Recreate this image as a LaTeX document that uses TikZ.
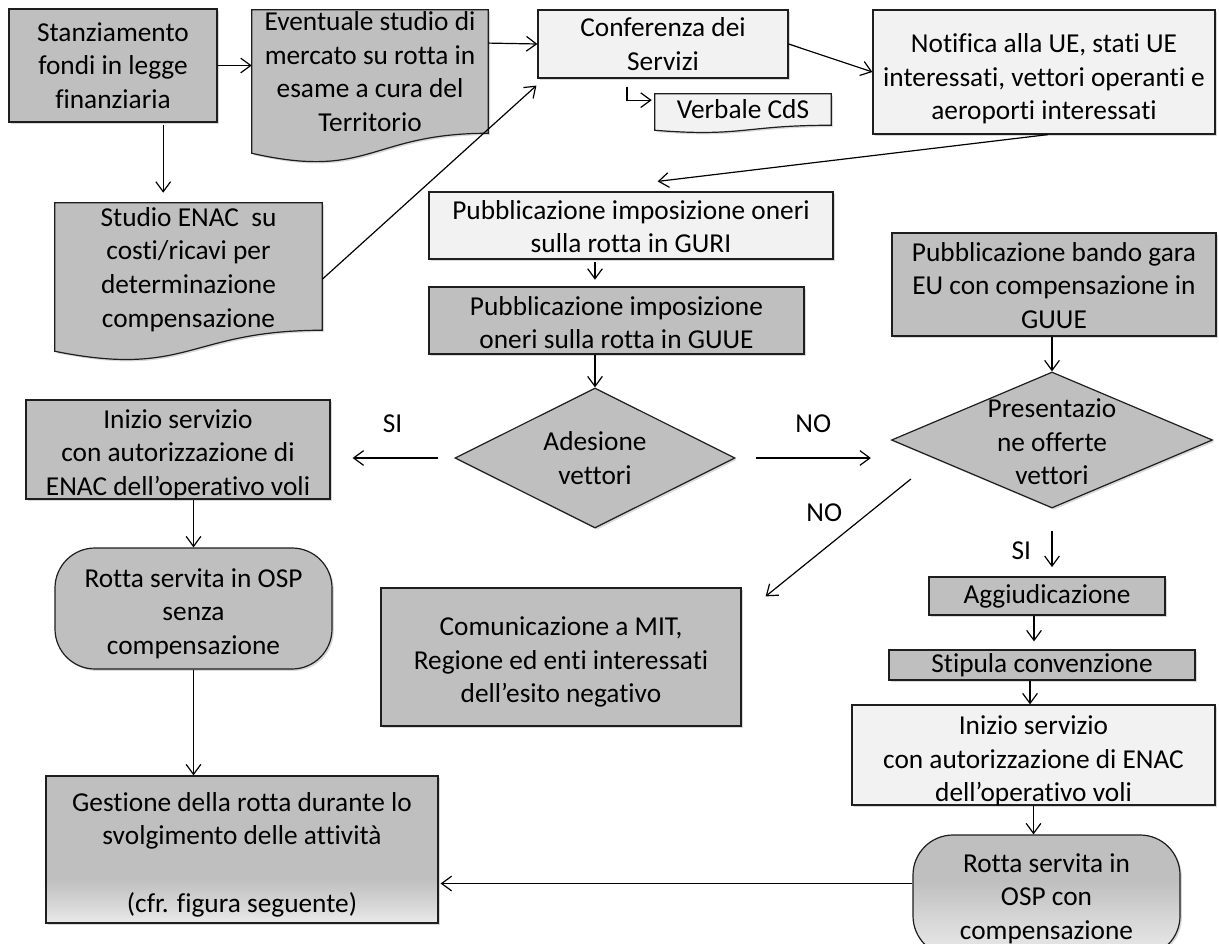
\documentclass[tikz,border=0pt]{standalone}
\usepackage{fontspec}
\setmainfont{Carlito}[Ligatures=NoCommon]
\usetikzlibrary{arrows.meta,shapes.geometric,shadows,calc,backgrounds}
\definecolor{boxgray}{RGB}{191,191,191}
\definecolor{boxlight}{RGB}{242,242,242}
\definecolor{fadelt}{RGB}{234,234,234}
\definecolor{fademid}{RGB}{215,215,215}
\definecolor{edge}{RGB}{30,30,30}
\pgfdeclareverticalshading{fadebot}{100bp}{color(0bp)=(fadelt); color(25bp)=(fadelt); color(31bp)=(fademid); color(40bp)=(boxgray); color(100bp)=(boxgray)}
\pgfdeclareverticalshading{fadebotB}{100bp}{color(0bp)=(fadelt); color(25bp)=(fadelt); color(40bp)=(fademid); color(56bp)=(boxgray); color(100bp)=(boxgray)}
% box from (x2,y2) to (x4,y4) in pixels, named #7; its text node #7t lowered by #1 px
\newcommand\bx[7][0]{\node[#2, minimum width={(#5-#3)*0.75pt}, minimum height={(#6-#4)*0.75pt}] (#7) at ({(#3+#5)/2},{(#4+#6)/2}) {};
  \node[txt] (#7t) at ($(#7)+(0,#1)$)}
\begin{document}
\begin{tikzpicture}[x=0.75pt, y=-0.75pt,
  font=\fontsize{20.5}{25.2}\selectfont,
  boxbase/.style={draw=edge, line width=0.9pt, inner sep=0pt,
    drop shadow={shadow xshift=1.4pt, shadow yshift=-1.4pt, opacity=0.3}},
  gbox/.style={boxbase, rectangle, fill=boxgray},
  lbox/.style={boxbase, rectangle, fill=boxlight},
  dia/.style={boxbase, shape=diamond, fill=boxgray},
  docshape/.style={draw=edge, line width=0.9pt,
    drop shadow={shadow xshift=1.4pt, shadow yshift=-1.4pt, opacity=0.3}},
  txt/.style={rectangle, inner sep=0pt, align=center},
  lab/.style={inner sep=0pt},
  arr/.style={draw=black, line width=0.9pt, -{Straight Barb[length=7.5pt,width=11pt]}}
]
\useasboundingbox (0,0) rectangle (1219,944);

% top row
\bx{gbox}{9}{9}{217}{122}{n1} {Stanziamento\\fondi in legge\\finanziaria};
\bx{txt}{252}{10}{488}{133}{n2} {Eventuale studio di\\mercato su rotta in\\esame a cura del\\Territorio};
\bx{lbox}{538}{10}{788}{78}{n3} {Conferenza dei\\Servizi};
\bx{txt}{655}{94}{831}{125}{n4} {Verbale CdS};
\bx[7]{lbox}{873}{10}{1215}{134}{n5} {Notifica alla UE, stati UE\\interessati, vettori operanti e\\aeroporti interessati};
\bx[3]{txt}{55}{203}{322}{330}{n6} {Studio ENAC\ \ su\\costi/ricavi per\\determinazione\\compensazione};

\begin{scope}[on background layer]
\path[docshape, fill=boxgray] (n2.north west) -- (n2.north east) -- (n2.south east)
  .. controls (n2.south) and ($(n2.south)+(0,47)$) .. ($(n2.south west)+(0,20)$) -- cycle;
\path[docshape, fill=boxlight] (n4.north west) -- (n4.north east) -- (n4.south east)
  .. controls (n4.south) and ($(n4.south)+(0,12)$) .. ($(n4.south west)+(0,5)$) -- cycle;
\path[docshape, fill=boxgray] (n6.north west) -- (n6.north east) -- (n6.south east)
  .. controls (n6.south) and ($(n6.south)+(0,48)$) .. ($(n6.south west)+(0,21)$) -- cycle;
\end{scope}

% middle
\bx[1]{lbox}{429}{192}{833}{259}{n7} {Pubblicazione imposizione oneri\\sulla rotta in GURI};
\bx[2]{gbox}{429}{287}{804}{354}{n8} {Pubblicazione imposizione\\oneri sulla rotta in GUUE};
\bx[1]{gbox}{892}{233}{1216}{336}{n9} {Pubblicazione bando gara\\EU con compensazione in\\GUUE};

\node[dia, minimum width=210pt, minimum height=105pt] (d1) at (595,458) {};
\node[txt] (d1t) at (d1) {Adesione\\vettori};
\node[dia, minimum width=240.75pt, minimum height=102pt] (d2) at (1052,440) {};
\node[txt] (d2t) at ($(d2)+(0,2)$) {Presentazio\\ne offerte\\vettori};

\bx[5]{gbox}{26}{400}{330}{499}{n10} {Inizio servizio\\con autorizzazione di\\ENAC dell’operativo voli};
\bx[5]{gbox, rounded corners=30pt}{55}{548}{332}{669}{n11} {Rotta servita in OSP\\senza\\compensazione};
\bx[5]{gbox}{381}{588}{741}{726}{n12} {Comunicazione a MIT,\\Regione ed enti interessati\\dell’esito negativo};

\bx{gbox}{929}{577}{1165}{615}{n13} {Aggiudicazione};
\bx{gbox}{889}{650}{1195}{680}{n14} {Stipula convenzione};
\bx[6]{lbox}{852}{705}{1215}{805}{n15} {Inizio servizio\\con autorizzazione di ENAC\\dell’operativo voli};
\bx[3]{gbox, rounded corners=30pt, shade, shading=fadebotB}{913}{835}{1180}{956}{n16} {Rotta servita in\\OSP con\\compensazione};
\bx[5]{gbox, shade, shading=fadebot}{46}{776}{438}{923}{n17} {Gestione della rotta durante lo\\svolgimento delle attività\\\mbox{}\\(cfr. figura seguente)};

% connectors
\draw[arr] (n1.east) -- (n1.east -| n2.west);
\coordinate (c1) at ($(n1.south west)!0.74!(n1.south east)$);
\draw[arr, shorten <=1.5pt, shorten >=7.5pt] (c1) -- (c1 |- n6.north);
\draw[arr] ($(n2.north east)!0.27!(n2.south east)$) -- (n3.west);
\draw[arr] ($(n6.north east)!0.6!(n6.south east)$) -- ($(n3.south west)+(-1,7)$);
\draw[arr] ([xshift=-27pt,yshift=-6pt]n3.south) |- ([xshift=-2.25pt,yshift=7pt]n4.west);
\draw[arr] (n3.east) -- (n5.west);
\draw[arr] ([xshift=3pt]n5.south) -- ([xshift=20pt,yshift=7.5pt]n7.north);
\draw[arr, shorten <=1.5pt, shorten >=5pt] (n7.south -| d1.north) -- (n8.north -| d1.north);
\draw[arr] (n8.south -| d1.north) -- (d1.north);
\draw[arr] (n9.south -| d2.north) -- (d2.north);

\draw[arr, shorten <=12pt, shorten >=16.5pt] (d1.west) -- (d1.west -| n10.east)
  node[lab, pos=0.5, yshift=26pt] (lsi1) {SI};
\draw[arr, shorten <=15pt, shorten >=15pt] (d1.east) -- (d1.east -| d2.west)
  node[lab, pos=0.5, yshift=26pt] (lno1) {NO};
\draw[arr] ($(d2.west)+(20,39)$) -- ($(n12.north east)+(24,9)$)
  node[lab, pos=0.5, xshift=-10.5pt, yshift=18.75pt] (lno2) {NO};
\draw[arr, shorten <=16.5pt, shorten >=7pt] (d2.south) -- (d2.south |- n13.north)
  node[lab, pos=0.62, xshift=-23pt] (lsi2) {SI};

\coordinate (c2) at ($(n13.south)+(-13,0)$);
\draw[arr, shorten >=6pt] (c2) -- (c2 |- n14.north);
\coordinate (c3) at ($(n14.south)+(-12,0)$);
\draw[arr] (c3) -- (c3 |- n15.north);
\draw[arr] (n15.south) -- (n15.south |- n16.north);

\draw[arr] (n11.north |- n10.south) -- (n11.north);
\draw[arr] (n11.south) -- (n11.south |- n17.north);
\draw[arr, shorten >=1.5pt] ([yshift=9pt]n16.west) -- ([yshift=9pt]n16.west -| n17.east);
\end{tikzpicture}
\end{document}
